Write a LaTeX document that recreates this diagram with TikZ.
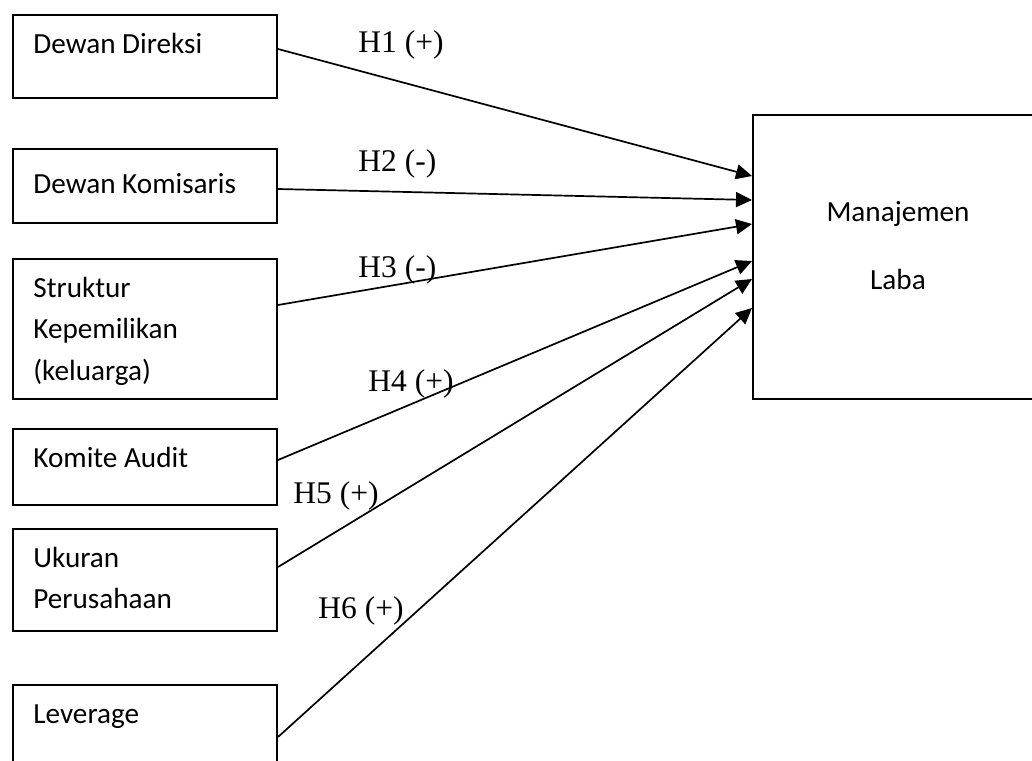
\documentclass[tikz,border=0pt]{standalone}
\usepackage{fontspec}
\setmainfont{Liberation Serif}
\newfontfamily\boxfont{Carlito}
\usetikzlibrary{arrows.meta,calc}
\tikzset{
  var/.style={draw=black,line width=1pt,anchor=north west,inner sep=0pt},
  txt/.style={anchor=base west,inner sep=0pt,font=\boxfont\fontsize{14.6}{17}\selectfont},
  mid/.style={txt,anchor=base},
  hyp/.style={anchor=base west,inner sep=0pt,font=\fontsize{15.75}{18}\selectfont},
  arr/.style={-{Triangle[length=8pt,width=7.5pt]},line width=0.85pt},
}
\begin{document}
\begin{tikzpicture}[x=0.5pt,y=-0.5pt]
  \useasboundingbox (0,0) rectangle (1032,760);
  \clip (0,0) rectangle (1032,760);
  % independent variables
  \node[var,minimum width=132pt,minimum height=41.5pt] (dd) at (12,14) {};
  \node[var,minimum width=132pt,minimum height=37pt] (dk) at (12,148) {};
  \node[var,minimum width=132pt,minimum height=70pt] (sk) at (12,258) {};
  \node[var,minimum width=132pt,minimum height=38pt] (ka) at (12,428) {};
  \node[var,minimum width=132pt,minimum height=51pt] (up) at (12,528) {};
  \node[var,minimum width=132pt,minimum height=52pt] (lv) at (12,684) {};
  % dependent variable
  \node[var,minimum width=154pt,minimum height=142pt] (ml) at (752,114) {};
  \node[txt] (tdd) at (33,53) {Dewan Direksi};
  \node[txt] (tdk) at (33,193) {Dewan Komisaris};
  \node[txt] (tsk1) at (33,297) {Struktur};
  \node[txt] (tsk2) at (33,338) {Kepemilikan};
  \node[txt] (tsk3) at (33,380) {(keluarga)};
  \node[txt] (tka) at (33,467) {Komite Audit};
  \node[txt] (tup1) at (33,567) {Ukuran};
  \node[txt] (tup2) at (33,608) {Perusahaan};
  \node[txt] (tlv) at (33,723) {Leverage};
  \node[mid] (tml1) at (898,221) {Manajemen};
  \node[mid] (tml2) at (898,289) {Laba};
  % hypotheses
  \draw[arr] ($(dd.east)+(0,-7.5)$) -- ($(ml.west)+(0,-81)$);
  \draw[arr] ($(dk.east)+(0,3)$) -- ($(ml.west)+(0,-57)$);
  \draw[arr] ($(sk.east)+(0,-24)$) -- ($(ml.west)+(0,-33)$);
  \draw[arr] ($(ka.east)+(0,-7)$) -- ($(ml.west)+(0,4)$);
  \draw[arr] ($(up.east)+(0,-13)$) -- ($(ml.west)+(0,22)$);
  \draw[arr] (lv.east) -- ($(ml.west)+(0,51)$);
  \node[hyp] (h1) at (358,52) {H1 (+)};
  \node[hyp] (h2) at (358,171) {H2 (-)};
  \node[hyp] (h3) at (358,277) {H3 (-)};
  \node[hyp] (h4) at (368,391) {H4 (+)};
  \node[hyp] (h5) at (293,503) {H5 (+)};
  \node[hyp] (h6) at (318,618) {H6 (+)};
\end{tikzpicture}
\end{document}
